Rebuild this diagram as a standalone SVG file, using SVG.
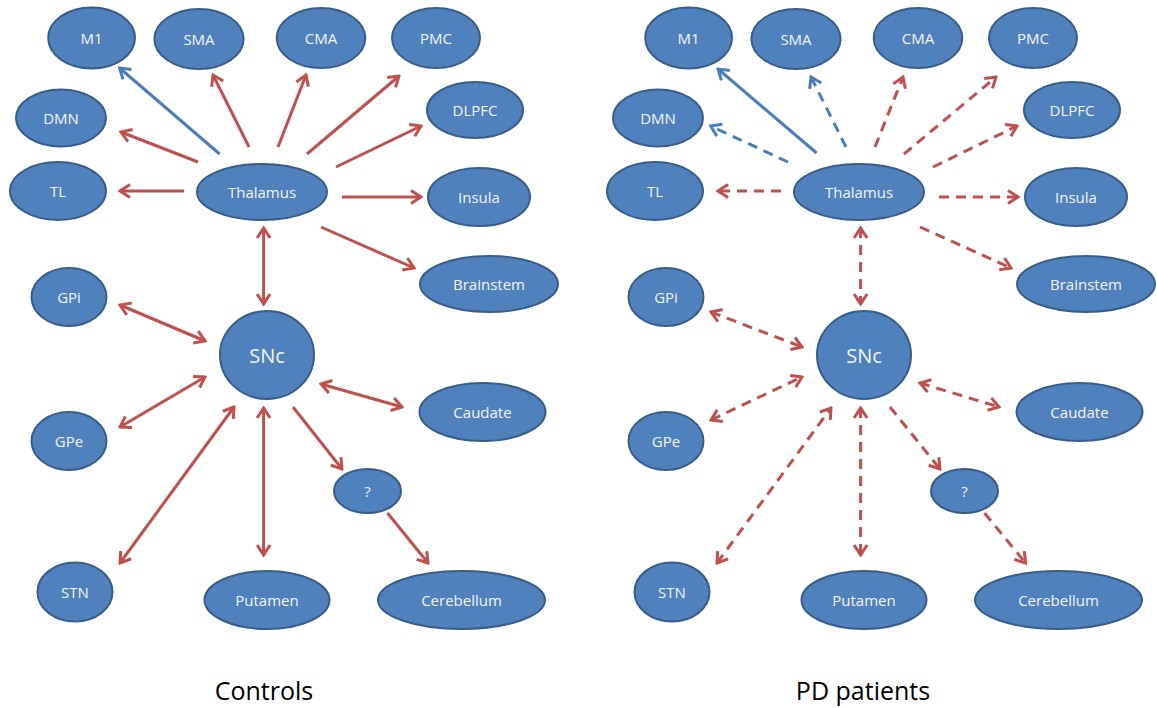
<svg xmlns="http://www.w3.org/2000/svg" width="1157" height="708" viewBox="0 0 1157 708">
<style>
.n ellipse{fill:#4f81bd;stroke:#385d8a;stroke-width:2}
.n text{fill:#f4f4f4;font-family:"Open Sans","Liberation Sans",sans-serif;font-size:15px;text-anchor:middle;dominant-baseline:central}
.n text.big{font-size:20px}
.c line{fill:none;stroke-width:3}
.r{stroke:#c0504d}
.b{stroke:#4a7ebb}
.d{stroke-dasharray:10 7}
.e{marker-end:url(#ar)}
.eb{marker-end:url(#ab)}
.s{marker-start:url(#ar)}
.cap{font-family:"Open Sans","Liberation Sans",sans-serif;font-size:25px;fill:#000;text-anchor:middle}
</style>
<defs>
<marker id="ar" viewBox="-13 -8 15 16" refX="0" refY="0" markerWidth="15" markerHeight="16" markerUnits="userSpaceOnUse" orient="auto-start-reverse"><path d="M-10,-6.5 L0,0 L-10,6.5" fill="none" stroke="#c0504d" stroke-width="3" stroke-dasharray="none"/></marker>
<marker id="ab" viewBox="-13 -8 15 16" refX="0" refY="0" markerWidth="15" markerHeight="16" markerUnits="userSpaceOnUse" orient="auto-start-reverse"><path d="M-10,-6.5 L0,0 L-10,6.5" fill="none" stroke="#4a7ebb" stroke-width="3" stroke-dasharray="none"/></marker>
</defs>
<rect width="1157" height="708" fill="#ffffff"/>

<g id="controls">
<g id="connectors-controls" class="c">
<line class="b eb" x1="219.6" y1="154" x2="119.6" y2="68"/>
<line class="r e" x1="249" y1="147" x2="213" y2="75"/>
<line class="r e" x1="278" y1="147" x2="306" y2="75"/>
<line class="r e" x1="307" y1="154" x2="399" y2="76"/>
<line class="r e" x1="198" y1="162" x2="121" y2="132"/>
<line class="r e" x1="336" y1="167" x2="421" y2="126"/>
<line class="r e" x1="184" y1="191" x2="120" y2="191"/>
<line class="r e" x1="342" y1="197" x2="421" y2="197"/>
<line class="r e" x1="321" y1="227" x2="414" y2="268"/>
<line class="r s e" x1="263.6" y1="228" x2="263.6" y2="304"/>
<line class="r s e" x1="120" y1="305" x2="205" y2="341"/>
<line class="r s e" x1="120" y1="427" x2="205" y2="377"/>
<line class="r s e" x1="321" y1="384" x2="402" y2="407"/>
<line class="r s e" x1="120" y1="563" x2="234" y2="407"/>
<line class="r s e" x1="263.6" y1="408" x2="263.6" y2="555"/>
<line class="r e" x1="293" y1="407" x2="342" y2="469"/>
<line class="r e" x1="387.5" y1="513" x2="428" y2="563"/>
</g>
<g id="c-M1" class="n"><ellipse cx="91.6" cy="38" rx="43.4" ry="30.5"/><text x="91.6" y="38">M1</text></g>
<g id="c-SMA" class="n"><ellipse cx="199" cy="39" rx="44.6" ry="30"/><text x="199" y="39">SMA</text></g>
<g id="c-CMA" class="n"><ellipse cx="321" cy="38" rx="44.3" ry="30"/><text x="321" y="38">CMA</text></g>
<g id="c-PMC" class="n"><ellipse cx="436" cy="38" rx="44" ry="30"/><text x="436" y="38">PMC</text></g>
<g id="c-DMN" class="n"><ellipse cx="61" cy="118" rx="45" ry="28.5"/><text x="61" y="118">DMN</text></g>
<g id="c-DLPFC" class="n"><ellipse cx="475" cy="110" rx="48" ry="28"/><text x="475" y="110">DLPFC</text></g>
<g id="c-TL" class="n"><ellipse cx="58" cy="191" rx="48" ry="29"/><text x="58" y="191">TL</text></g>
<g id="c-Thalamus" class="n"><ellipse cx="262" cy="192" rx="65" ry="28"/><text x="262" y="192">Thalamus</text></g>
<g id="c-Insula" class="n"><ellipse cx="479" cy="197" rx="51" ry="29"/><text x="479" y="197">Insula</text></g>
<g id="c-Brainstem" class="n"><ellipse cx="489" cy="284" rx="69" ry="28"/><text x="489" y="284">Brainstem</text></g>
<g id="c-GPi" class="n"><ellipse cx="69" cy="297" rx="37.5" ry="29"/><text x="69" y="297">GPi</text></g>
<g id="c-SNc" class="n"><ellipse cx="267" cy="355" rx="47" ry="44"/><text class="big" x="267" y="355">SNc</text></g>
<g id="c-Caudate" class="n"><ellipse cx="482.5" cy="412" rx="63" ry="29"/><text x="482.5" y="412">Caudate</text></g>
<g id="c-GPe" class="n"><ellipse cx="69" cy="441" rx="37.5" ry="29"/><text x="69" y="441">GPe</text></g>
<g id="c-Q" class="n"><ellipse cx="367.5" cy="491" rx="33.5" ry="22"/><text x="367.5" y="491">?</text></g>
<g id="c-STN" class="n"><ellipse cx="75" cy="592" rx="37.5" ry="29.5"/><text x="75" y="592">STN</text></g>
<g id="c-Putamen" class="n"><ellipse cx="267" cy="600" rx="62.5" ry="29"/><text x="267" y="600">Putamen</text></g>
<g id="c-Cerebellum" class="n"><ellipse cx="461.5" cy="600" rx="83.5" ry="29"/><text x="461.5" y="600">Cerebellum</text></g>
<text class="cap" x="264" y="700">Controls</text>
</g>

<g id="pd" transform="translate(597,0)">
<g id="connectors-pd" class="c">
<line class="b eb" x1="219.6" y1="153" x2="121" y2="69"/>
<line class="b d eb" x1="249" y1="147" x2="214" y2="77"/>
<line class="b d eb" x1="191" y1="162" x2="113.6" y2="126"/>
<line class="r d e" x1="278" y1="147" x2="306" y2="77"/>
<line class="r d e" x1="307" y1="154" x2="399" y2="77"/>
<line class="r d e" x1="336" y1="167" x2="420" y2="126"/>
<line class="r d e" x1="184" y1="191" x2="121" y2="191"/>
<line class="r d e" x1="342" y1="197" x2="421" y2="197"/>
<line class="r d e" x1="323" y1="227" x2="414" y2="268"/>
<line class="r d s e" x1="263.6" y1="228" x2="263.6" y2="304"/>
<line class="r d s e" x1="114" y1="312" x2="205" y2="347"/>
<line class="r d s e" x1="114" y1="420" x2="205" y2="377"/>
<line class="r d s e" x1="323" y1="383" x2="402" y2="407"/>
<line class="r d s e" x1="120" y1="563" x2="234" y2="408"/>
<line class="r d s e" x1="263.6" y1="408" x2="263.6" y2="555"/>
<line class="r d e" x1="293" y1="407" x2="343" y2="469"/>
<line class="r d e" x1="387.5" y1="513" x2="428.6" y2="563"/>
</g>
<g id="p-M1" class="n"><ellipse cx="91.6" cy="38" rx="43.4" ry="30.5"/><text x="91.6" y="38">M1</text></g>
<g id="p-SMA" class="n"><ellipse cx="199" cy="39" rx="44.6" ry="30"/><text x="199" y="39">SMA</text></g>
<g id="p-CMA" class="n"><ellipse cx="321" cy="38" rx="44.3" ry="30"/><text x="321" y="38">CMA</text></g>
<g id="p-PMC" class="n"><ellipse cx="436" cy="38" rx="44" ry="30"/><text x="436" y="38">PMC</text></g>
<g id="p-DMN" class="n"><ellipse cx="61" cy="118" rx="45" ry="28.5"/><text x="61" y="118">DMN</text></g>
<g id="p-DLPFC" class="n"><ellipse cx="475" cy="110" rx="48" ry="28"/><text x="475" y="110">DLPFC</text></g>
<g id="p-TL" class="n"><ellipse cx="58" cy="191" rx="48" ry="29"/><text x="58" y="191">TL</text></g>
<g id="p-Thalamus" class="n"><ellipse cx="262" cy="192" rx="65" ry="28"/><text x="262" y="192">Thalamus</text></g>
<g id="p-Insula" class="n"><ellipse cx="479" cy="197" rx="51" ry="29"/><text x="479" y="197">Insula</text></g>
<g id="p-Brainstem" class="n"><ellipse cx="489" cy="284" rx="69" ry="28"/><text x="489" y="284">Brainstem</text></g>
<g id="p-GPi" class="n"><ellipse cx="69" cy="297" rx="37.5" ry="29"/><text x="69" y="297">GPi</text></g>
<g id="p-SNc" class="n"><ellipse cx="267" cy="355" rx="47" ry="44"/><text class="big" x="267" y="355">SNc</text></g>
<g id="p-Caudate" class="n"><ellipse cx="482.5" cy="412" rx="63" ry="29"/><text x="482.5" y="412">Caudate</text></g>
<g id="p-GPe" class="n"><ellipse cx="69" cy="441" rx="37.5" ry="29"/><text x="69" y="441">GPe</text></g>
<g id="p-Q" class="n"><ellipse cx="367.5" cy="491" rx="33.5" ry="22"/><text x="367.5" y="491">?</text></g>
<g id="p-STN" class="n"><ellipse cx="75" cy="592" rx="37.5" ry="29.5"/><text x="75" y="592">STN</text></g>
<g id="p-Putamen" class="n"><ellipse cx="267" cy="600" rx="62.5" ry="29"/><text x="267" y="600">Putamen</text></g>
<g id="p-Cerebellum" class="n"><ellipse cx="461.5" cy="600" rx="83.5" ry="29"/><text x="461.5" y="600">Cerebellum</text></g>
<text class="cap" x="266" y="700">PD patients</text>
</g>
</svg>
